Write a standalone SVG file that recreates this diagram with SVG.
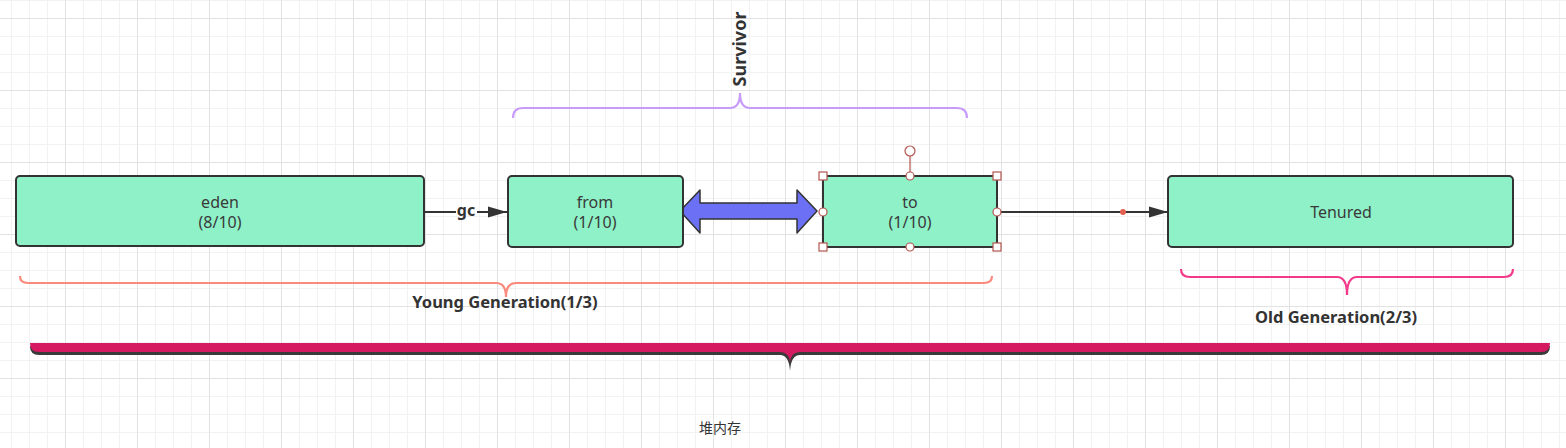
<svg xmlns="http://www.w3.org/2000/svg" width="1566" height="448" viewBox="0 0 1566 448">
<defs>
<style>
.node rect.box{fill:#8ef1c8;stroke:#333;stroke-width:2}
.ntext{font-family:"Noto Sans","Liberation Sans",sans-serif;font-size:16px;fill:#3a3a3a;text-anchor:middle}
.label{font-family:"Noto Sans","Liberation Sans",sans-serif;font-size:16.5px;font-weight:bold;fill:#333;text-anchor:middle}
.conn{stroke:#333;stroke-width:2;fill:none}
.hsq{fill:#fff;stroke:#b3554f;stroke-width:1.2}
.brace{fill:none;stroke-width:2.2}
</style>
<pattern id="minor" width="18" height="18" patternUnits="userSpaceOnUse" x="11" y="0">
<path d="M0 0.5H18M0.5 0V18" stroke="#f2f2f2" stroke-width="1" fill="none"/>
</pattern>
<pattern id="major" width="72" height="72" patternUnits="userSpaceOnUse" x="65" y="18">
<path d="M0 0.5H72M0.5 0V72" stroke="#e2e2e2" stroke-width="1" fill="none"/>
</pattern>
<marker id="arr" markerUnits="userSpaceOnUse" markerWidth="20" markerHeight="14" refX="19" refY="6" orient="auto">
<path d="M0,0.5 L19,6 L0,11.5 Z" fill="#333"/>
</marker>
</defs>
<rect width="1566" height="448" fill="#fff"/>
<rect width="1566" height="448" fill="url(#minor)"/>
<rect width="1566" height="448" fill="url(#major)"/>

<g id="braces">
<path class="brace" stroke="#c79cf9" d="M513,118 Q513,108 523,108 H730 Q740,108 740,93 Q740,108 750,108 H957 Q967,108 967,118"/>
<path class="brace" stroke="#f98a7c" d="M20,276 Q20,283 28,283 H496 Q506,283 506,297 Q506,283 516,283 H984 Q992,283 992,276"/>
<path class="brace" stroke="#f2398a" stroke-width="2.5" d="M1181,269 Q1181,277 1190,277 H1337 Q1347,277 1347,295 Q1347,277 1357,277 H1504 Q1513,277 1513,269"/>
<path fill="#3a3a3a" d="M30,346 H1550 Q1550,355 1541,355 H800 Q791,355 790,371 Q789,355 780,355 H39 Q30,355 30,346 Z"/>
<path fill="#d51a62" d="M30,343 H1550 Q1550,352 1541,352 H800 Q791,352 790,362 Q789,352 780,352 H39 Q30,352 30,343 Z"/>
</g>

<g id="labels">
<text class="label" transform="translate(746,49) rotate(-90)" style="font-size:18px" x="0" y="0">Survivor</text>
<text class="label" x="505" y="308">Young Generation(1/3)</text>
<text class="label" x="1336" y="323">Old Generation(2/3)</text>
<text x="720" y="433" style="font-family:'Noto Sans CJK SC','Noto Sans',sans-serif;font-size:14px;fill:#333;text-anchor:middle">堆内存</text>
</g>

<g id="connectors">
<path class="conn" d="M424,212 H456 M477,212 H507" marker-end="url(#arr)"/>
<text class="label" x="466" y="216" style="font-size:16px">gc</text>
<path class="conn" d="M997,212 H1168" marker-end="url(#arr)"/>
<circle cx="1123" cy="212" r="3" fill="#e2604f"/>
<polygon points="680,211 700,190 700,203 797,203 797,190 817,211 797,233 797,219 700,219 700,233" fill="#6b70f4" stroke="#333" stroke-width="1.5" stroke-linejoin="round"/>
</g>

<g id="eden" class="node">
<rect class="box" x="16" y="176" width="408" height="70" rx="4"/>
<text class="ntext" x="220" y="208">eden</text>
<text class="ntext" x="220" y="228">(8/10)</text>
</g>
<g id="from" class="node">
<rect class="box" x="508" y="176" width="175" height="71" rx="4"/>
<text class="ntext" x="595" y="208">from</text>
<text class="ntext" x="595" y="228">(1/10)</text>
</g>
<g id="to" class="node">
<rect class="box" x="823" y="176" width="174" height="71" rx="1"/>
<text class="ntext" x="910" y="208">to</text>
<text class="ntext" x="910" y="228">(1/10)</text>
<g id="to-handles">
<line x1="910" y1="156" x2="910" y2="172" stroke="#b3554f" stroke-width="1.2"/>
<circle class="hsq" cx="910" cy="151" r="5"/>
<rect class="hsq" x="819" y="172" width="8" height="8"/>
<rect class="hsq" x="993" y="172" width="8" height="8"/>
<rect class="hsq" x="819" y="243" width="8" height="8"/>
<rect class="hsq" x="993" y="243" width="8" height="8"/>
<circle class="hsq" cx="910" cy="176" r="4"/>
<circle class="hsq" cx="910" cy="247" r="4"/>
<circle class="hsq" cx="823" cy="212" r="4"/>
<circle class="hsq" cx="997" cy="212" r="4"/>
</g>
</g>
<g id="tenured" class="node">
<rect class="box" x="1168" y="176" width="345" height="71" rx="4"/>
<text class="ntext" x="1341" y="218">Tenured</text>
</g>
</svg>
